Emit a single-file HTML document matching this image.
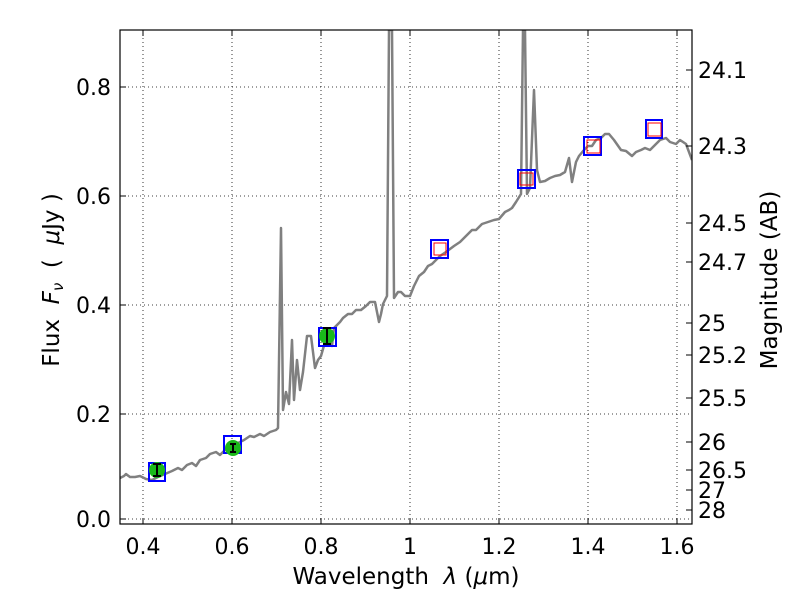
<!DOCTYPE html>
<html><head><meta charset="utf-8"><style>
body{margin:0;background:#fff;}
svg text{font-family:"DejaVu Sans","Liberation Sans",sans-serif;fill:#000;}
</style></head><body>
<svg width="800" height="600" xmlns="http://www.w3.org/2000/svg">
<defs><clipPath id="c"><rect x="120" y="30" width="572" height="494"/></clipPath></defs>
<rect width="800" height="600" fill="#fff"/>
<g stroke="#000" stroke-width="0.8" stroke-dasharray="1,3">
<line x1="143" y1="30" x2="143" y2="524"/><line x1="232" y1="30" x2="232" y2="524"/>
<line x1="321" y1="30" x2="321" y2="524"/><line x1="410" y1="30" x2="410" y2="524"/>
<line x1="499" y1="30" x2="499" y2="524"/><line x1="588" y1="30" x2="588" y2="524"/>
<line x1="677" y1="30" x2="677" y2="524"/>
<line x1="120" y1="519" x2="692" y2="519"/><line x1="120" y1="414" x2="692" y2="414"/>
<line x1="120" y1="305" x2="692" y2="305"/><line x1="120" y1="196" x2="692" y2="196"/>
<line x1="120" y1="87" x2="692" y2="87"/>
</g>
<g clip-path="url(#c)">
<polyline fill="none" stroke="#808080" stroke-width="2.5" stroke-linejoin="round" points="
120,478 124,476 126,474 130,477 135,477 140,476 146,479 152,480 158,477 165,474 172,471 178,468 182,470 187,465 192,463 196,466 200,460 206,458 210,454 216,452 220,455 226,449 232,444 238,443 244,440 250,436 254,437 260,434 264,436 270,432 276,430 278,428 281,228 283,410 286,392 289,404 292,340 294,400 297,360 300,390 303,372 307,336 311,336 315,368 318,360 321,356 325,342 330,330 332,346 334,328 340,322 343,318 348,314 352,314 356,310 361,310 366,306 370,302 375,302 379,322 381,314 383,304 387,296 389,30 392,30 394,298 398,292 401,292 405,296 410,296 414,286 419,276 424,272 428,266 432,264 440,256 446,252 454,246 460,242 466,236 472,230 476,230 482,224 488,222 494,220 499,219 505,212 509,210 512,208 516,202 521,194 523,30 525,30 527,194 530,188 534,90 537,170 540,182 545,181 550,178 555,176 560,175 565,172 569,158 572,182 576,162 579,156 584,150 588,146 592,146 596,140 601,138 605,134 609,134 614,140 621,150 626,151 632,156 636,152 641,150 645,148 650,150 654,146 660,140 666,138 670,142 676,144 680,140 686,144 692,160"/>
<g fill="none">
<rect x="149" y="463" width="16" height="18" stroke="#00f" stroke-width="2"/>
<rect x="224" y="436" width="17" height="17" stroke="#00f" stroke-width="2"/>
<rect x="319" y="328" width="17" height="18" stroke="#00f" stroke-width="2"/>
<rect x="431" y="240" width="17" height="18" stroke="#00f" stroke-width="2"/>
<rect x="518" y="170" width="17" height="18" stroke="#00f" stroke-width="2"/>
<rect x="584" y="137" width="17" height="18" stroke="#00f" stroke-width="2"/>
<rect x="646" y="120" width="16" height="18" stroke="#00f" stroke-width="2"/>
<rect x="434" y="243" width="12" height="12" stroke="#f00" stroke-width="1"/>
<rect x="520" y="173" width="13" height="12" stroke="#f00" stroke-width="1"/>
<rect x="587" y="140" width="13" height="13" stroke="#f00" stroke-width="1"/>
<rect x="648" y="123" width="13" height="13" stroke="#f00" stroke-width="1"/>
</g>
<g fill="#1ab91a"><circle cx="157" cy="470" r="8"/><circle cx="233" cy="448" r="8"/><circle cx="327" cy="336" r="8"/></g>
<g stroke="#000" stroke-width="2">
<line x1="157" y1="464" x2="157" y2="476"/><line x1="153" y1="464" x2="161" y2="464"/><line x1="153" y1="476" x2="161" y2="476"/>
<line x1="233" y1="444" x2="233" y2="452"/><line x1="230" y1="444" x2="236" y2="444"/><line x1="230" y1="452" x2="236" y2="452"/>
<line x1="327" y1="328" x2="327" y2="344"/><line x1="323" y1="328" x2="331" y2="328"/><line x1="323" y1="344" x2="331" y2="344"/>
</g>
</g>
<rect x="120" y="30" width="572" height="494" fill="none" stroke="#000" stroke-width="1.2"/>
<g stroke="#000" stroke-width="1">
<path d="M143,524v-6M232,524v-6M321,524v-6M410,524v-6M499,524v-6M588,524v-6M677,524v-6M143,30v6M232,30v6M321,30v6M410,30v6M499,30v6M588,30v6M677,30v6"/>
<path d="M120,519h6M120,414h6M120,305h6M120,196h6M120,87h6"/>
<path d="M692,70h-6M692,146h-6M692,223h-6M692,262h-6M692,323h-6M692,355h-6M692,398h-6M692,442h-6M692,470h-6M692,490h-6M692,510h-6"/>
</g>
<g font-size="22" text-anchor="middle">
<text x="143" y="554">0.4</text><text x="232" y="554">0.6</text><text x="321" y="554">0.8</text>
<text x="410" y="554">1</text><text x="499" y="554">1.2</text><text x="588" y="554">1.4</text><text x="677" y="554">1.6</text>
</g>
<g font-size="22" text-anchor="end">
<text x="111" y="527">0.0</text><text x="111" y="422">0.2</text><text x="111" y="313">0.4</text>
<text x="111" y="204">0.6</text><text x="111" y="95">0.8</text>
</g>
<g font-size="22">
<text x="698" y="78">24.1</text><text x="698" y="154">24.3</text><text x="698" y="231">24.5</text>
<text x="698" y="270">24.7</text><text x="698" y="331">25</text><text x="698" y="363">25.2</text>
<text x="698" y="406">25.5</text><text x="698" y="450">26</text><text x="698" y="478">26.5</text>
<text x="698" y="498">27</text><text x="698" y="518">28</text>
</g>
<text x="406" y="584" font-size="23" text-anchor="middle" xml:space="preserve">Wavelength  <tspan font-style="italic">λ</tspan> (<tspan font-style="italic">μ</tspan>m)</text>
<text transform="translate(59,280) rotate(-90)" font-size="23" text-anchor="middle" xml:space="preserve">Flux  <tspan font-style="italic">F</tspan><tspan font-style="italic" font-size="15" dy="4">ν</tspan><tspan dy="-4">  (  </tspan><tspan font-style="italic">μ</tspan>Jy )</text>
<text transform="translate(777,280) rotate(-90)" font-size="23" text-anchor="middle">Magnitude (AB)</text>
</svg>
</body></html>
